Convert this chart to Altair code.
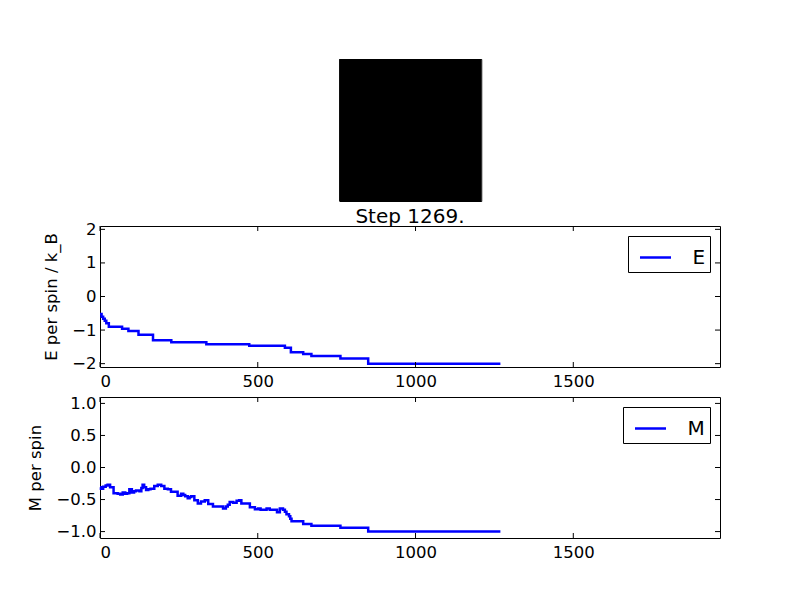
import altair as alt
import pandas as pd

FONT = "DejaVu Sans"
BLUE = "#0000ff"

# what the frame shows
step_title = "Step 1269."
x_max = 1965

# energy per spin: value holds from each step until the next one
e_steps = [0, 5, 10, 15, 20, 28, 70, 90, 122, 168, 226, 337, 473, 586,
           605, 644, 670, 762, 850, 1269]
e_values = [-0.52, -0.60, -0.66, -0.72, -0.80, -0.90, -0.96, -1.03, -1.14,
            -1.30, -1.36, -1.42, -1.47, -1.53, -1.66, -1.71, -1.77, -1.85,
            -2.0, -2.0]

# magnetisation per spin
m_steps = [0, 3, 10, 18, 24, 32, 43, 56, 64, 72, 80, 86, 93, 101, 108, 114,
           125, 131, 135, 140, 146, 153, 160, 172, 183, 194, 204, 215, 225,
           235, 246, 257, 264, 270, 278, 284, 289, 299, 310, 320, 332, 343,
           358, 380, 390, 399, 405, 411, 422, 433, 441, 448, 464, 475, 491,
           501, 509, 517, 528, 538, 554, 561, 570, 580, 586, 591, 599, 603,
           607, 644, 670, 762, 850, 1269]
m_values = [-0.31, -0.33, -0.30, -0.28, -0.27, -0.31, -0.40, -0.41, -0.42,
            -0.39, -0.41, -0.40, -0.34, -0.39, -0.37, -0.36, -0.37, -0.32,
            -0.27, -0.31, -0.35, -0.34, -0.33, -0.29, -0.27, -0.29, -0.33,
            -0.34, -0.38, -0.38, -0.44, -0.41, -0.43, -0.45, -0.48, -0.46,
            -0.45, -0.51, -0.56, -0.53, -0.51, -0.57, -0.61, -0.61, -0.64,
            -0.61, -0.58, -0.54, -0.55, -0.52, -0.51, -0.56, -0.56, -0.62,
            -0.65, -0.64, -0.66, -0.66, -0.64, -0.66, -0.66, -0.70, -0.64,
            -0.66, -0.69, -0.73, -0.76, -0.80, -0.84, -0.88, -0.91, -0.94,
            -1.0, -1.0]

# the lattice snapshot: every spin is down
spin_rows = [0]
spin_cols = [0]
spin_values = [-1]

x_ticks = [0, 500, 1000, 1500]
e_ticks = [-2, -1, 0, 1, 2]
m_ticks = [-1.0, -0.5, 0.0, 0.5, 1.0]

W, H = 620, 141
TICK = 5


def trace_panel(steps, values, name, y_title, y_domain, y_ticks, y_format):
    df = pd.DataFrame({"step": steps, "value": values, "series": name})
    x_scale = alt.Scale(domain=[0, x_max], nice=False, zero=False)
    y_scale = alt.Scale(domain=y_domain, nice=False, zero=False)
    x_axis = alt.Axis(values=x_ticks, format="d", ticks=False, domain=False,
                      grid=False, labelPadding=6, labelOverlap=False)
    y_axis = alt.Axis(values=y_ticks, format=y_format, ticks=False,
                      domain=False, grid=False, labelPadding=4,
                      titlePadding=12, labelOverlap=False)
    # every layer carries the same axis so the merged axis keeps all labels
    x_enc = alt.X("step:Q", scale=x_scale, title=None, axis=x_axis)
    y_enc = alt.Y("value:Q", scale=y_scale, title=y_title, axis=y_axis)

    line = alt.Chart(df).mark_line(interpolate="step-after", strokeWidth=2.5).encode(
        x=x_enc,
        y=y_enc,
        color=alt.Color(
            "series:N",
            scale=alt.Scale(range=[BLUE]),
            legend=alt.Legend(
                title=None, orient="top-right", offset=10,
                strokeColor="black", fillColor="white", padding=4.5,
                symbolType="stroke", symbolSize=961, symbolStrokeWidth=2.5,
                symbolOffset=6, labelOffset=20, labelFont=FONT,
                labelFontSize=20, labelColor="black",
            ),
        ),
    )

    # matplotlib-style ticks pointing into the frame on all four sides
    xt = alt.Chart(pd.DataFrame({"step": x_ticks})).mark_rule(color="black", strokeWidth=1)
    yt = alt.Chart(pd.DataFrame({"value": y_ticks})).mark_rule(color="black", strokeWidth=1)
    ticks = [
        xt.encode(x=x_enc, y=alt.value(H), y2=alt.value(H - TICK)),
        xt.encode(x=x_enc, y=alt.value(0), y2=alt.value(TICK)),
        yt.encode(y=y_enc, x=alt.value(0), x2=alt.value(TICK)),
        yt.encode(y=y_enc, x=alt.value(W), x2=alt.value(W - TICK)),
    ]

    return alt.layer(line, *ticks).properties(width=W, height=H)


spin_df = pd.DataFrame({"row": spin_rows, "col": spin_cols, "spin": spin_values})
lattice = alt.Chart(spin_df).mark_rect().encode(
    x=alt.X("col:O", axis=None, scale=alt.Scale(paddingInner=0, paddingOuter=0)),
    y=alt.Y("row:O", axis=None, scale=alt.Scale(paddingInner=0, paddingOuter=0)),
    color=alt.Color("spin:Q", scale=alt.Scale(domain=[-1, 1], range=["black", "white"]),
                    legend=None),
).properties(width=142, height=142)

energy = trace_panel(e_steps, e_values, "E", "E per spin / k_B",
                     [-2.1, 2.1], e_ticks, "d").properties(
    title=alt.Title(step_title, font=FONT, fontSize=20, fontWeight="normal",
                    color="black", anchor="middle", frame="group", offset=-6)
)
magnet = trace_panel(m_steps, m_values, "M", "M per spin",
                     [-1.1, 1.1], m_ticks, ".1f")

chart = (
    alt.vconcat(lattice, energy, magnet, spacing=4, center=True)
    .resolve_scale(color="independent")
    .resolve_legend(color="independent")
    .properties(padding={"left": 19, "top": 50, "right": 10, "bottom": 10},
                background="white")
    .configure_view(stroke="black", strokeWidth=1)
    .configure_axis(labelFont=FONT, labelFontSize=16.5, labelColor="black",
                    titleFont=FONT, titleFontSize=16.5, titleFontWeight="normal",
                    titleColor="black")
)

chart.save("out.html", embed_options={"renderer": "svg", "actions": False})
